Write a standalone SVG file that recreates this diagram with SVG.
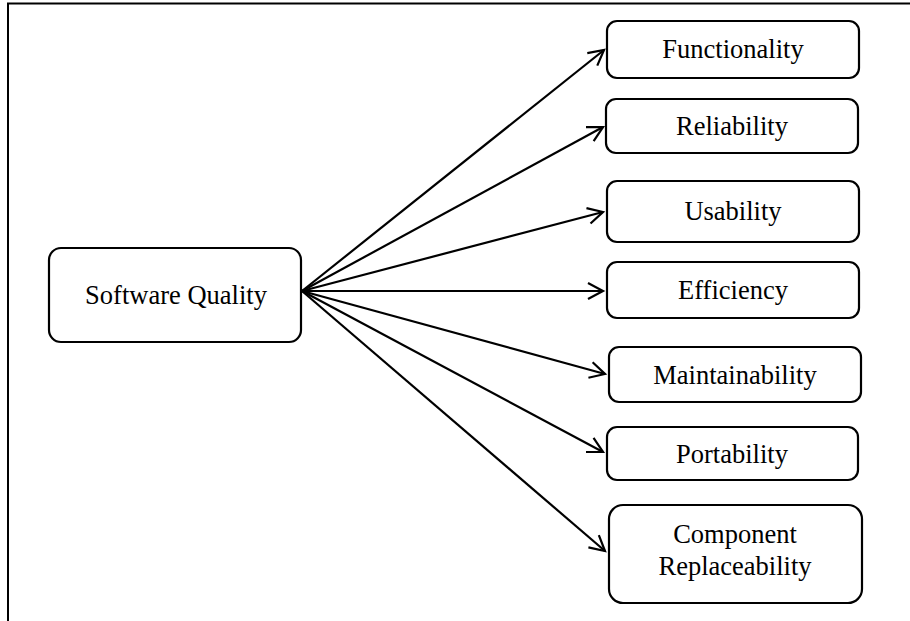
<svg xmlns="http://www.w3.org/2000/svg" width="910" height="621" viewBox="0 0 910 621">
<style>
.box{fill:#fff;stroke:#000;stroke-width:2.2}
.lbl{font-family:"Liberation Serif","Times New Roman",serif;font-size:26.5px;fill:#000;text-anchor:middle}
.edge{fill:none;stroke:#000;stroke-width:2.2}
.frame{fill:none;stroke:#000;stroke-width:2}
</style>
<defs>
<marker id="arr" markerUnits="userSpaceOnUse" markerWidth="20" markerHeight="20" viewBox="-16 -10 20 20" refX="0" refY="0" orient="auto">
<path d="M-15,-8 L0,0 L-15,8" fill="none" stroke="#000" stroke-width="2.2" stroke-linejoin="miter"/>
</marker>
</defs>
<path class="frame" d="M8,621 V3.5 H910"/>
<g id="connectors">
<line class="edge" x1="302" y1="291" x2="604" y2="50" marker-end="url(#arr)"/>
<line class="edge" x1="302" y1="291" x2="603" y2="127" marker-end="url(#arr)"/>
<line class="edge" x1="302" y1="291" x2="603" y2="212" marker-end="url(#arr)"/>
<line class="edge" x1="302" y1="291" x2="603" y2="291" marker-end="url(#arr)"/>
<line class="edge" x1="302" y1="291" x2="605" y2="374" marker-end="url(#arr)"/>
<line class="edge" x1="302" y1="291" x2="603" y2="452" marker-end="url(#arr)"/>
<line class="edge" x1="302" y1="291" x2="605" y2="551" marker-end="url(#arr)"/>
</g>
<g id="software-quality">
<rect class="box" x="49" y="248" width="252" height="94" rx="12"/>
<text class="lbl" x="176" y="304">Software Quality</text>
</g>
<g id="functionality">
<rect class="box" x="607" y="21" width="252" height="57" rx="10"/>
<text class="lbl" x="733" y="58">Functionality</text>
</g>
<g id="reliability">
<rect class="box" x="606" y="99" width="252" height="54" rx="10"/>
<text class="lbl" x="732" y="135">Reliability</text>
</g>
<g id="usability">
<rect class="box" x="607" y="181" width="252" height="61" rx="10"/>
<text class="lbl" x="733" y="220">Usability</text>
</g>
<g id="efficiency">
<rect class="box" x="607" y="262" width="252" height="56" rx="10"/>
<text class="lbl" x="733" y="299">Efficiency</text>
</g>
<g id="maintainability">
<rect class="box" x="609" y="347" width="252" height="55" rx="10"/>
<text class="lbl" x="735" y="384">Maintainability</text>
</g>
<g id="portability">
<rect class="box" x="607" y="427" width="251" height="53" rx="10"/>
<text class="lbl" x="732" y="463">Portability</text>
</g>
<g id="component-replaceability">
<rect class="box" x="609" y="505" width="253" height="98" rx="14"/>
<text class="lbl" x="735" y="543">Component</text>
<text class="lbl" x="735" y="575">Replaceability</text>
</g>
</svg>
